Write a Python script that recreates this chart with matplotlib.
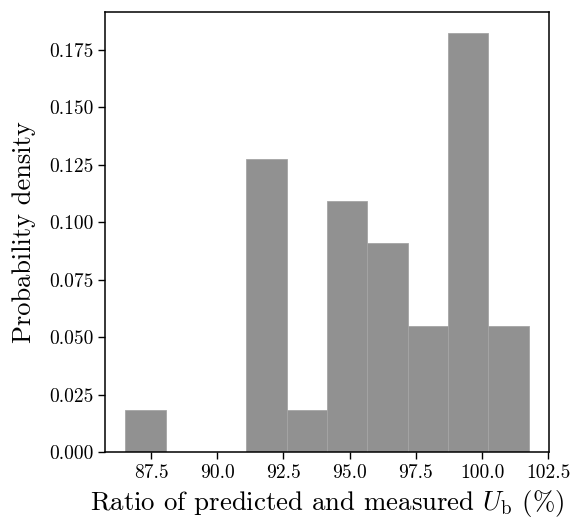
import numpy as np
import matplotlib
matplotlib.use("Agg")
import matplotlib.pyplot as plt

plt.rcParams.update({
    "font.family": "serif",
    "font.serif": ["cmr10", "DejaVu Serif"],
    "mathtext.fontset": "cm",
    "axes.formatter.use_mathtext": True,
    "axes.unicode_minus": False,
})

# Histogram data (ratio of predicted and measured U_b, %)
bin_range = (86.52, 101.76)
n_bins = 10
bin_counts = [1, 0, 0, 7, 1, 6, 5, 3, 10, 3]
xticks = [87.5, 90.0, 92.5, 95.0, 97.5, 100.0, 102.5]
yticks = [0.000, 0.025, 0.050, 0.075, 0.100, 0.125, 0.150, 0.175]

edges = np.histogram_bin_edges([], bins=n_bins, range=bin_range)
centers = (edges[:-1] + edges[1:]) / 2

fig = plt.figure(figsize=(5.71, 5.21), dpi=100)
ax = fig.add_axes([0.184, 0.132, 0.777, 0.845])
ax.hist(centers, bins=edges, weights=bin_counts, density=True,
        color="#919191", edgecolor="#a5a5a5", linewidth=0.6)

ax.set_xticks(xticks)
ax.set_xticklabels([f"{v:.1f}" for v in xticks])
ax.set_yticks(yticks)
ax.set_yticklabels([f"{v:.3f}" for v in yticks])
ax.tick_params(labelsize=14, length=5, width=1.0, direction="out")
for s in ax.spines.values():
    s.set_linewidth(1.1)
ax.set_xlabel(r"Ratio of predicted and measured $U_\mathrm{b}$ (%)", fontsize=19.3)
ax.set_ylabel("Probability density", fontsize=19, labelpad=9)

fig.savefig("out.png", dpi=100)
